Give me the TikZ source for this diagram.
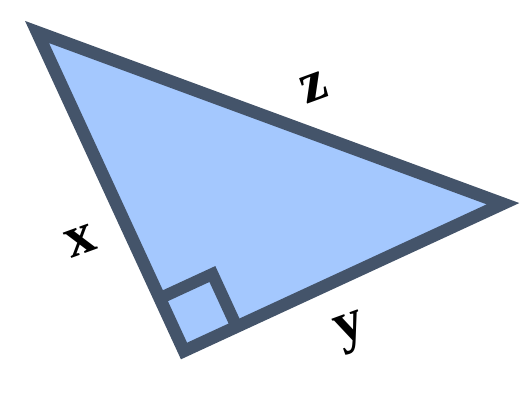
\documentclass[tikz,border=0pt]{standalone}
\usepackage{fontspec}
\setmainfont{Liberation Serif}
\usetikzlibrary{calc}
\definecolor{triFill}{RGB}{164,200,254}
\definecolor{triLine}{RGB}{68,84,106}
\tikzset{
  tri/.style={draw=triLine, fill=triFill, line width=12.5pt, line join=miter, miter limit=10},
  rightmark/.style={draw=triLine, line width=12pt, line join=miter},
  lbl/.style={inner sep=0pt, font=\fontsize{58}{60}\selectfont\bfseries}
}
\begin{document}
\begin{tikzpicture}[x=1pt,y=1pt]
  \useasboundingbox (0,0) rectangle (520,416);
  \coordinate (A) at (37,384);
  \coordinate (B) at (503,212.3);
  \coordinate (C) at (184,65);
  \draw[tri] (A) -- (B) -- (C) -- cycle;
  \coordinate (P1) at ($(C)!58pt!(A)$);
  \coordinate (P2) at ($(C)!58pt!(B)$);
  \coordinate (P3) at ($(P1)+(P2)-(C)$);
  \draw[rightmark] (P1) -- (P3) -- (P2);
  \node[lbl, rotate=20] (z) at (314,328) {z};
  \node[lbl, rotate=20] (x) at (80.5,174.5) {x};
  \node[lbl, rotate=20] (y) at (352,83) {y};
\end{tikzpicture}
\end{document}
